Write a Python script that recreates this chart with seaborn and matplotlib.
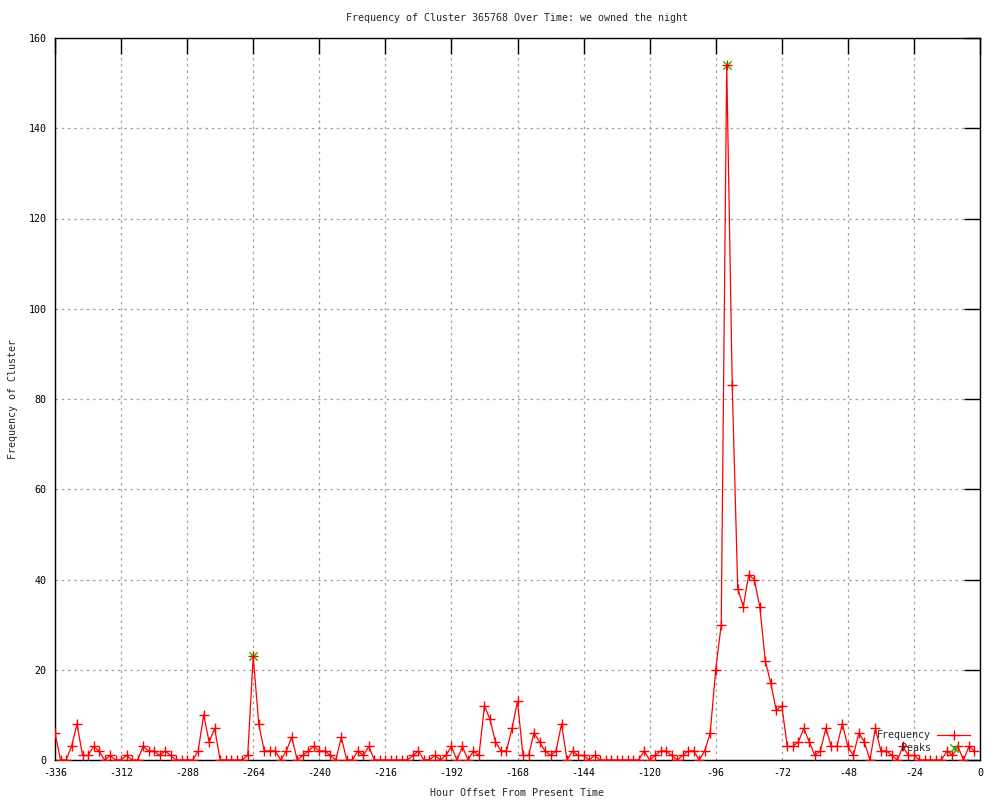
import numpy as np
import matplotlib
matplotlib.use("Agg")
import matplotlib.pyplot as plt
import seaborn as sns

# Data (every 2 hours, from -336 to -2)
hours = list(range(-336, 0, 2))
freq = [
    6, 0, 0, 3, 8, 1, 1, 3, 2, 0, 1, 0,
    0, 1, 0, 0, 3, 2, 2, 1, 2, 1, 0, 0,
    0, 0, 2, 10, 4, 7, 0, 0, 0, 0, 0, 1,
    23, 8, 2, 2, 2, 0, 2, 5, 0, 1, 2, 3,
    2, 2, 1, 0, 5, 0, 0, 2, 1, 3, 0, 0,
    0, 0, 0, 0, 0, 1, 2, 0, 0, 1, 0, 1,
    3, 0, 3, 0, 2, 1, 12, 9, 4, 2, 2, 7,
    13, 1, 1, 6, 4, 2, 1, 2, 8, 0, 2, 1,
    1, 0, 1, 0, 0, 0, 0, 0, 0, 0, 0, 2,
    0, 1, 2, 2, 1, 0, 1, 2, 2, 0, 2, 6,
    20, 30, 154, 83, 38, 34, 41, 40, 34, 22, 17, 11,
    12, 3, 3, 4, 7, 4, 1, 2, 7, 3, 3, 8,
    3, 1, 6, 4, 0, 7, 2, 2, 1, 0, 3, 1,
    1, 0, 0, 0, 0, 0, 2, 1, 3, 0, 3, 2,
]
peak_hours = [-264, -92]
peak_vals = [23, 154]

x_ticks = list(range(-336, 1, 24))
y_ticks = list(range(0, 161, 20))

title = "Frequency of Cluster 365768 Over Time: we owned the night"
xlabel = "Hour Offset From Present Time"
ylabel = "Frequency of Cluster"

sns.set_style("white")
plt.rcParams['font.family'] = ['DejaVu Sans Mono']
plt.rcParams['axes.unicode_minus'] = False
FS = 7.2

fig = plt.figure(figsize=(10, 8), dpi=100)
ax = fig.add_axes([55/1000, 1-760/800, 925/1000, 722/800])

ax.grid(True, linestyle=(0, (2, 3)), color='#a0a0a0', linewidth=0.9, zorder=0)
ax.set_axisbelow(True)

sns.lineplot(x=hours, y=freq, ax=ax, color='red', marker='+', markersize=7,
             markeredgewidth=1.0, markeredgecolor='red', markerfacecolor='red',
             linewidth=0.9, label='Frequency', zorder=3)
sns.scatterplot(x=peak_hours, y=peak_vals, ax=ax, marker='x', color='#00c000',
                s=36, linewidth=1.0, label='Peaks', zorder=2)

ax.set_xlim(-336, 0)
ax.set_ylim(0, 160)
ax.set_xticks(x_ticks)
ax.set_yticks(y_ticks)
ax.tick_params(direction='in', length=11.5, width=1, top=True, right=True,
               labelsize=FS, colors='black', pad=6)
for s in ax.spines.values():
    s.set_color('black')
    s.set_linewidth(1)
    s.set_visible(True)

ax.set_title(title, fontsize=FS, y=(760-18)/722, va='center', pad=0)
ax.set_xlabel(xlabel, fontsize=FS, va='center')
ax.xaxis.set_label_coords(0.5, (760-793)/722)
ax.set_ylabel(ylabel, fontsize=FS, va='center', ha='center')
ax.yaxis.set_label_coords((13-55)/925, 0.5)

leg = ax.legend(loc='lower right', bbox_to_anchor=((970-55)/925, (760-753)/722),
                markerfirst=False, frameon=False, fontsize=FS, handlelength=3.3,
                handletextpad=0.6, labelspacing=0.25, borderaxespad=0, borderpad=0)

fig.savefig("out.png", dpi=100)
